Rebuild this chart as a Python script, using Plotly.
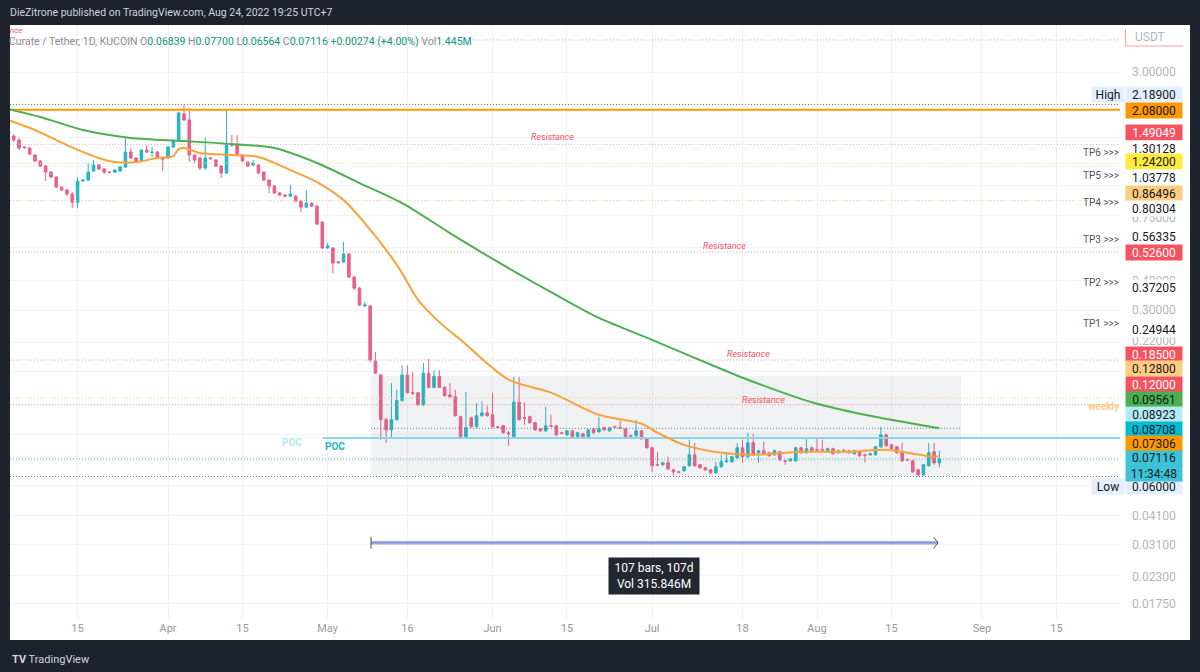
import pandas as pd
import plotly.graph_objects as go

# ---------------- data ----------------
dates = pd.date_range("2022-03-02", "2022-08-24", freq="D")

opens_mar = [1.712,1.615,1.554,1.452,1.438,1.344,1.268,1.208,1.140,1.086,0.986,0.958,0.922,0.852,1.045,1.055,1.151,1.220,1.174,1.140,1.140,1.151,1.197,1.383,1.306,1.268,1.410,1.376,1.383,1.306]
highs_mar = [1.762,1.647,1.585,1.466,1.452,1.356,1.280,1.220,1.151,1.096,0.995,0.967,0.940,1.086,1.065,1.244,1.280,1.232,1.185,1.151,1.174,1.208,1.600,1.438,1.318,1.424,1.480,1.452,1.397,1.318]
lows_mar = [1.600,1.524,1.410,1.424,1.344,1.256,1.197,1.045,1.075,0.976,0.949,0.903,0.804,0.804,1.035,1.045,1.140,1.162,1.118,1.129,1.129,1.140,1.185,1.293,1.256,1.256,1.370,1.318,1.293,1.151]
closes_mar = [1.631,1.554,1.438,1.445,1.356,1.268,1.208,1.140,1.086,0.986,0.958,0.922,0.852,1.045,1.055,1.140,1.220,1.174,1.140,1.135,1.162,1.197,1.383,1.306,1.268,1.410,1.383,1.383,1.306,1.293]

opens_apr = [1.306,1.452,1.539,1.999,1.886,1.344,1.306,1.185,1.306,1.280,1.208,1.129,1.495,1.480,1.344,1.256,1.220,1.220,1.140,1.055,0.995,0.931,0.912,0.903,0.903,0.861,0.812,0.844,0.820,0.702]
highs_apr = [1.466,1.554,2.038,2.189,2.118,1.356,1.318,1.585,1.318,1.293,1.220,2.078,1.631,1.631,1.356,1.268,1.280,1.232,1.151,1.065,1.005,0.940,0.922,1.005,0.912,0.869,0.958,0.852,0.828,0.709]
lows_apr = [1.293,1.438,1.524,1.868,1.256,1.244,1.162,1.162,1.280,1.197,1.075,1.118,1.452,1.344,1.256,1.197,1.208,1.118,1.045,0.931,0.922,0.903,0.895,0.895,0.852,0.774,0.804,0.812,0.682,0.542]
closes_apr = [1.452,1.539,2.019,1.886,1.344,1.280,1.185,1.306,1.300,1.208,1.129,1.495,1.480,1.356,1.268,1.208,1.244,1.129,1.055,0.995,0.931,0.912,0.903,0.922,0.861,0.812,0.844,0.820,0.689,0.547]

opens_may = [0.547,0.547,0.478,0.478,0.516,0.413,0.371,0.312,0.312,0.183,0.160,0.104,0.0942,0.104,0.125,0.160,0.135,0.135,0.120,0.163,0.142,0.158,0.142,0.132,0.130,0.107,0.0873,0.106,0.0970,0.108,0.111]
highs_may = [0.574,0.552,0.482,0.579,0.521,0.417,0.375,0.325,0.315,0.200,0.162,0.106,0.148,0.139,0.176,0.176,0.165,0.136,0.180,0.187,0.168,0.168,0.144,0.148,0.139,0.108,0.136,0.107,0.122,0.124,0.119]
lows_may = [0.542,0.429,0.468,0.473,0.409,0.364,0.312,0.309,0.181,0.162,0.0856,0.0831,0.0864,0.103,0.124,0.134,0.132,0.119,0.119,0.141,0.141,0.141,0.130,0.128,0.107,0.0864,0.0864,0.0961,0.0961,0.107,0.107]
closes_may = [0.558,0.473,0.476,0.516,0.413,0.371,0.315,0.315,0.185,0.163,0.104,0.0942,0.104,0.125,0.160,0.135,0.1343,0.120,0.163,0.142,0.158,0.142,0.131,0.130,0.108,0.0873,0.0961,0.0970,0.108,0.111,0.108]

opens_jun = [0.109,0.0970,0.098,0.0916,0.0881,0.123,0.106,0.107,0.101,0.0951,0.0933,0.098,0.098,0.0916,0.0898,0.0933,0.0881,0.0907,0.0881,0.0951,0.0924,0.0961,0.0933,0.0970,0.0961,0.0951,0.0889,0.0889,0.0933,0.0864]
highs_jun = [0.135,0.098,0.0989,0.0933,0.157,0.157,0.123,0.108,0.102,0.0961,0.118,0.109,0.0989,0.0924,0.0942,0.0942,0.0924,0.0916,0.0951,0.0961,0.107,0.097,0.097,0.098,0.103,0.0961,0.0898,0.104,0.0942,0.0873]
lows_jun = [0.0961,0.0961,0.0907,0.0807,0.0873,0.103,0.0989,0.0999,0.0933,0.0924,0.0924,0.0970,0.0889,0.0907,0.0889,0.0873,0.0873,0.0873,0.0873,0.0907,0.0916,0.0933,0.0924,0.0961,0.0951,0.0873,0.0881,0.0881,0.0856,0.0785]
closes_jun = [0.0970,0.0965,0.0916,0.0907,0.123,0.104,0.1055,0.101,0.0942,0.0933,0.098,0.0975,0.0898,0.0911,0.0933,0.0881,0.0916,0.0881,0.0942,0.0916,0.0951,0.0942,0.0961,0.0965,0.0958,0.0881,0.0887,0.0933,0.0864,0.0792]

opens_jul = [0.0792,0.0672,0.0672,0.0685,0.0640,0.0628,0.0634,0.0666,0.0740,0.0672,0.0653,0.0640,0.0622,0.0659,0.0692,0.0692,0.0719,0.0792,0.0726,0.0831,0.0755,0.0770,0.0755,0.0740,0.0762,0.0698,0.0698,0.0698,0.0792,0.0755,0.0792]
highs_jul = [0.0800,0.0762,0.0692,0.0726,0.0646,0.0634,0.0666,0.0856,0.0831,0.0678,0.0659,0.0646,0.0692,0.0740,0.0762,0.0733,0.0831,0.0856,0.0916,0.0907,0.0777,0.0840,0.0762,0.0777,0.0770,0.0705,0.0719,0.0800,0.0800,0.0873,0.0800]
lows_jul = [0.0628,0.0666,0.0666,0.0640,0.0604,0.0622,0.0628,0.0659,0.0659,0.0646,0.0634,0.0616,0.0616,0.0653,0.0685,0.0685,0.0712,0.0685,0.0719,0.0733,0.0685,0.0740,0.0726,0.0733,0.0698,0.0672,0.0692,0.0692,0.0748,0.0748,0.0762]
closes_jul = [0.0666,0.0670,0.0685,0.0646,0.0628,0.0625,0.0659,0.0740,0.0666,0.0653,0.0640,0.0622,0.0659,0.0692,0.0698,0.0726,0.0792,0.0726,0.0831,0.0740,0.0770,0.0748,0.0733,0.0770,0.0705,0.0696,0.0712,0.0792,0.0755,0.0785,0.0770]

opens_aug = [0.0777,0.0777,0.0770,0.0785,0.0755,0.0770,0.0770,0.0748,0.0762,0.0740,0.0740,0.0740,0.0800,0.0898,0.0815,0.0800,0.0762,0.0705,0.0698,0.0640,0.0610,0.0666,0.0762,0.06839]
highs_aug = [0.0864,0.0856,0.0792,0.0792,0.0777,0.0785,0.0777,0.0777,0.0770,0.0748,0.0755,0.0807,0.0970,0.0907,0.0823,0.0807,0.0831,0.0712,0.0705,0.0646,0.0678,0.0831,0.0831,0.0770]
lows_aug = [0.0770,0.0770,0.0762,0.0740,0.0748,0.0762,0.0748,0.0740,0.0726,0.0685,0.0733,0.0733,0.0792,0.0800,0.0777,0.0748,0.0692,0.0698,0.0622,0.0600,0.0604,0.0659,0.0672,0.06564]
closes_aug = [0.0774,0.0775,0.0785,0.0748,0.0770,0.0768,0.0755,0.0770,0.0733,0.0737,0.0748,0.0800,0.0898,0.0807,0.0785,0.0755,0.0698,0.0703,0.0628,0.0610,0.0672,0.0755,0.06839,0.07116]

opens = opens_mar + opens_apr + opens_may + opens_jun + opens_jul + opens_aug
highs = highs_mar + highs_apr + highs_may + highs_jun + highs_jul + highs_aug
lows = lows_mar + lows_apr + lows_may + lows_jun + lows_jul + lows_aug
closes = closes_mar + closes_apr + closes_may + closes_jun + closes_jul + closes_aug

ema_fast_dates = ["2022-03-02","2022-03-07","2022-03-13","2022-03-19","2022-03-22","2022-03-26","2022-03-30",
                  "2022-04-02","2022-04-03","2022-04-04","2022-04-07","2022-04-13","2022-04-18","2022-04-24",
                  "2022-04-29","2022-05-04","2022-05-08","2022-05-13","2022-05-15","2022-05-18","2022-05-22",
                  "2022-05-26","2022-06-04","2022-06-12","2022-06-21","2022-06-29","2022-07-02","2022-07-07",
                  "2022-07-14","2022-07-20","2022-07-29","2022-08-07","2022-08-14","2022-08-18","2022-08-23","2022-08-24"]
ema_fast_vals = [1.886,1.712,1.480,1.306,1.256,1.256,1.306,
                 1.331,1.424,1.438,1.370,1.344,1.318,1.162,
                 1.035,0.869,0.696,0.501,0.429,0.331,0.267,
                 0.225,0.153,0.135,0.109,0.0999,0.0916,0.0815,
                 0.0755,0.0740,0.0762,0.0762,0.0777,0.0755,0.0726,0.07306]

ema_slow_dates = ["2022-03-02","2022-03-08","2022-03-16","2022-03-25","2022-04-04","2022-04-13","2022-04-21",
                  "2022-04-29","2022-05-07","2022-05-15","2022-05-24","2022-06-02","2022-06-12","2022-06-21",
                  "2022-07-01","2022-07-10","2022-07-19","2022-07-31","2022-08-10","2022-08-24"]
ema_slow_vals = [2.097,1.942,1.712,1.585,1.539,1.495,1.438,
                 1.244,1.025,0.844,0.632,0.478,0.357,0.278,
                 0.225,0.185,0.153,0.123,0.109,0.09561]

level_top_res = 4.09
level_high = 2.189
level_2080 = 2.08
level_res1 = 1.49049
level_tp_yellow = 1.242
level_tp_orange = 0.86496
level_res2 = 0.526
level_res3 = 0.185
level_weekly = 0.128
level_res4 = 0.12
level_box_mid = 0.09561
level_poc = 0.08708
level_last = 0.07116
level_low = 0.06
box_top = 0.1586
box_bottom = 0.06
box_start = "2022-05-09 04:00"
box_end = "2022-08-28 01:30"
poc_faint_start = "2022-04-22 01:00"
poc_start = "2022-04-30 02:00"
measure_price = 0.0316
measure_start = "2022-05-09 04:00"
measure_end = "2022-08-23 18:00"

grid_levels = [3.0, 2.2, 1.6, 1.2, 1.0, 0.75, 0.55, 0.4, 0.3, 0.22, 0.165, 0.12, 0.09, 0.07, 0.055, 0.041, 0.031, 0.023, 0.0175]
x_tick_vals = ["2022-03-15","2022-04-01","2022-04-15","2022-05-01","2022-05-16","2022-06-01","2022-06-15",
               "2022-07-01","2022-07-18","2022-08-01","2022-08-15","2022-09-01","2022-09-15"]
x_tick_text = ["15","Apr","15","May","16","Jun","15","Jul","18","Aug","15","Sep","15"]

X_START = "2022-03-02 07:12"
X_END = "2022-09-26 22:48"

# ---------------- figure ----------------
FONT = "Roboto, Inter, sans-serif"
UP = "#26b5c4"
DOWN = "#ec5f8b"
DARK = "#1e222d"

def PX(x):
    return (x - 10) / 1110.0

def PY(y):
    return (620 - y) / 595.0

fig = go.Figure()

# range box
fig.add_trace(go.Scatter(
    x=[box_start, box_end, box_end, box_start, box_start],
    y=[box_top, box_top, box_bottom, box_bottom, box_top],
    fill="toself", fillcolor="rgba(120,123,134,0.11)", line=dict(width=0),
    mode="lines", hoverinfo="skip", showlegend=False))

def hline(price, color, dash="1px,2px", width=1, x0=X_START, x1=X_END):
    fig.add_trace(go.Scatter(x=[x0, x1], y=[price, price], mode="lines",
                             line=dict(color=color, dash=dash, width=width),
                             hoverinfo="skip", showlegend=False))

hline(level_top_res, "#f7a1a8")
hline(level_high, "#787b86")
hline(level_res1, "#f7a1a8")
hline(level_tp_yellow, "#f3e27a")
hline(level_tp_orange, "#fdc98a")
hline(level_res2, "#f7a1a8")
hline(level_res3, "#f7a1a8")
hline(level_weekly, "#fdc98a")
hline(level_res4, "#f7a1a8")
hline(level_box_mid, "#787b86", x0=box_start, x1=box_end)
hline(level_last, "#3cc0d3")
hline(level_low, "#787b86")
hline(level_poc, "#c5eef3", x0=poc_faint_start, x1=poc_start)
hline(level_poc, "#86d9e4", dash="solid", width=2, x0=poc_start)
hline(level_2080, "#ff9800", dash="solid", width=2)

fig.add_trace(go.Candlestick(
    x=dates, open=opens, high=highs, low=lows, close=closes,
    increasing=dict(line=dict(color=UP, width=1), fillcolor=UP),
    decreasing=dict(line=dict(color=DOWN, width=1), fillcolor=DOWN),
    whiskerwidth=0, hoverinfo="skip", showlegend=False))

fig.add_trace(go.Scatter(x=ema_slow_dates, y=ema_slow_vals, mode="lines",
                         line=dict(color="#4caf50", width=2, shape="spline", smoothing=0.8),
                         hoverinfo="skip", showlegend=False))
fig.add_trace(go.Scatter(x=ema_fast_dates, y=ema_fast_vals, mode="lines",
                         line=dict(color="#f7a23b", width=2, shape="spline", smoothing=0.8),
                         hoverinfo="skip", showlegend=False))

# date range measure
fig.add_trace(go.Scatter(x=[measure_start, measure_end], y=[measure_price, measure_price], mode="lines",
                         line=dict(color="#b3bfe9", width=4), hoverinfo="skip", showlegend=False))
fig.add_trace(go.Scatter(x=[measure_start, measure_end], y=[measure_price, measure_price], mode="lines",
                         line=dict(color="#6a7fcb", width=1), hoverinfo="skip", showlegend=False))
fig.add_trace(go.Scatter(x=[measure_start, measure_start], y=[measure_price * 1.06, measure_price / 1.06],
                         mode="lines", line=dict(color="#50535e", width=1), hoverinfo="skip", showlegend=False))
arrow_back = (pd.Timestamp(measure_end) - pd.Timedelta(hours=20)).strftime("%Y-%m-%d %H:%M")
fig.add_trace(go.Scatter(x=[arrow_back, measure_end, arrow_back],
                         y=[measure_price * 1.055, measure_price, measure_price / 1.055],
                         mode="lines", line=dict(color="#50535e", width=1), hoverinfo="skip", showlegend=False))

annotations = []

def txt(x, y, text, color, size=12, bg=None, w=None, h=None, xanchor="center", bold=False, italic=False):
    t = text
    if bold:
        t = "<b>" + t + "</b>"
    if italic:
        t = "<i>" + t + "</i>"
    a = dict(x=PX(x), y=PY(y), xref="paper", yref="paper", text=t, showarrow=False,
             font=dict(color=color, size=size, family=FONT), xanchor=xanchor, yanchor="middle")
    if bg is not None:
        a["bgcolor"] = bg
        a["borderpad"] = 1
    if w is not None:
        a["width"] = w
    if h is not None:
        a["height"] = h
    annotations.append(a)

# top bar and header
txt(8, 12, "DieZitrone published on TradingView.com, Aug 24, 2022 19:25 UTC+7", "#d1d4dc", size=10.5, xanchor="left")
G = "#8a8d96"
T = "#089981"
header = (f'<span style="color:{G}">Curate / Tether, 1D, KUCOIN O</span><span style="color:{T}">0.06839</span>'
          f'<span style="color:{G}"> H</span><span style="color:{T}">0.07700</span>'
          f'<span style="color:{G}"> L</span><span style="color:{T}">0.06564</span>'
          f'<span style="color:{G}"> C</span><span style="color:{T}">0.07116 +0.00274 (+4.00%)</span>'
          f'<span style="color:{G}"> Vol</span><span style="color:{T}">1.445M</span>')
txt(7, 41, header, G, size=10.5, xanchor="left")
txt(8, 31, "nce", "#f7525f", size=8, xanchor="left", italic=True)
txt(10, 659, "<b>TV</b> TradingView", "#d1d4dc", size=11, xanchor="left")

# chart texts
RED = "#f7525f"
txt(552, 137, "Resistance", RED, size=9, italic=True)
txt(724, 246, "Resistance", RED, size=9, italic=True)
txt(748, 354, "Resistance", RED, size=9, italic=True)
txt(763, 400, "Resistance", RED, size=9, italic=True)
txt(1104, 407, "weekly", "#fdc98a", size=10, bold=True)
txt(292, 443, "POC", "#b8e9ef", size=10, bold=True)
txt(335, 447, "POC", "#22b5c8", size=10, bold=True)
txt(654, 576, "107 bars, 107d<br>Vol 315.846M", "#ffffff", size=12, bg="#23272f", w=88, h=34)

# TP labels
for yy, lab in [(152, "TP6 >>>"), (175, "TP5 >>>"), (202, "TP4 >>>"), (239, "TP3 >>>"), (282, "TP2 >>>"), (323, "TP1 >>>")]:
    txt(1101, yy, lab, "#50535e", size=10)

# price scale labels (grid labels first, then boxes on top)
GRAY = "#b2b5be"
TXT = "#131722"
for yy, lab in [(72, "3.00000"), (218, "0.75000"), (281, "0.40000"), (310, "0.30000"), (341, "0.22000"),
                (516, "0.04100"), (545, "0.03100"), (577, "0.02300"), (604, "0.01750")]:
    txt(1154, yy, lab, GRAY, size=12)
txt(1150, 37, "USDT", GRAY, size=12)

price_labels = [
    (94, "2.18900", "#e3effd", TXT), (110, "2.08000", "#ff9800", TXT), (132, "1.49049", RED, "#ffffff"),
    (148, "1.30128", "#ffffff", TXT), (162, "1.24200", "#ffeb3b", TXT), (178, "1.03778", "#ffffff", TXT),
    (193, "0.86496", "#ffcc80", TXT), (208, "0.80304", "#ffffff", TXT), (237, "0.56335", "#ffffff", TXT),
    (252, "0.52600", RED, "#ffffff"), (287, "0.37205", "#ffffff", TXT), (329, "0.24944", "#ffffff", TXT),
    (354, "0.18500", RED, "#ffffff"), (369, "0.12800", "#ffcc80", TXT), (384, "0.12000", RED, "#ffffff"),
    (399, "0.09561", "#4caf50", TXT), (414, "0.08923", "#b2ebf2", TXT), (429, "0.08708", "#00bcd4", TXT),
    (444, "0.07306", "#ff9800", TXT), (486, "0.06000", "#e3effd", TXT),
]
for yy, lab, bg, fg in price_labels:
    txt(1154, yy, lab, fg, size=12, bg=bg, w=54, h=13)
txt(1154, 466, "0.07116<br>11:34:48", TXT, size=12, bg="#3cc3d6", w=54, h=28)
txt(1108, 94, "High", TXT, size=12, bg="#e3effd", w=30, h=13)
txt(1108, 486, "Low", TXT, size=12, bg="#e3effd", w=30, h=13)

shapes = [
    dict(type="rect", xref="paper", yref="paper", x0=PX(10), x1=PX(1190), y0=PY(640), y1=PY(25),
         fillcolor="#ffffff", line=dict(width=0), layer="below"),
    dict(type="line", xref="paper", yref="paper", x0=PX(1125.5), x1=PX(1125.5), y0=PY(29), y1=PY(46),
         line=dict(color="#f7a1a8", width=1)),
    dict(type="line", xref="paper", yref="paper", x0=PX(1125.5), x1=PX(1183), y0=PY(46), y1=PY(46),
         line=dict(color="#f7a1a8", width=1)),
]

fig.update_layout(
    width=1200, height=672,
    margin=dict(l=10, r=80, t=25, b=52),
    paper_bgcolor=DARK, plot_bgcolor="#ffffff",
    showlegend=False,
    annotations=annotations, shapes=shapes,
    font=dict(family=FONT),
    xaxis=dict(type="date", range=[X_START, X_END], tickvals=x_tick_vals, ticktext=x_tick_text,
               tickfont=dict(color="#9598a1", size=11, family=FONT), showgrid=True, gridcolor="#f2f3f5",
               zeroline=False, showline=False, ticks="", rangeslider=dict(visible=False), fixedrange=True),
    yaxis=dict(type="log", range=[-1.82453, 0.67452], side="right", tickvals=grid_levels,
               showticklabels=False, showgrid=True, gridcolor="#f2f3f5", zeroline=False, showline=False,
               ticks="", fixedrange=True),
)

fig.write_html("out.html", config={"displayModeBar": False})
